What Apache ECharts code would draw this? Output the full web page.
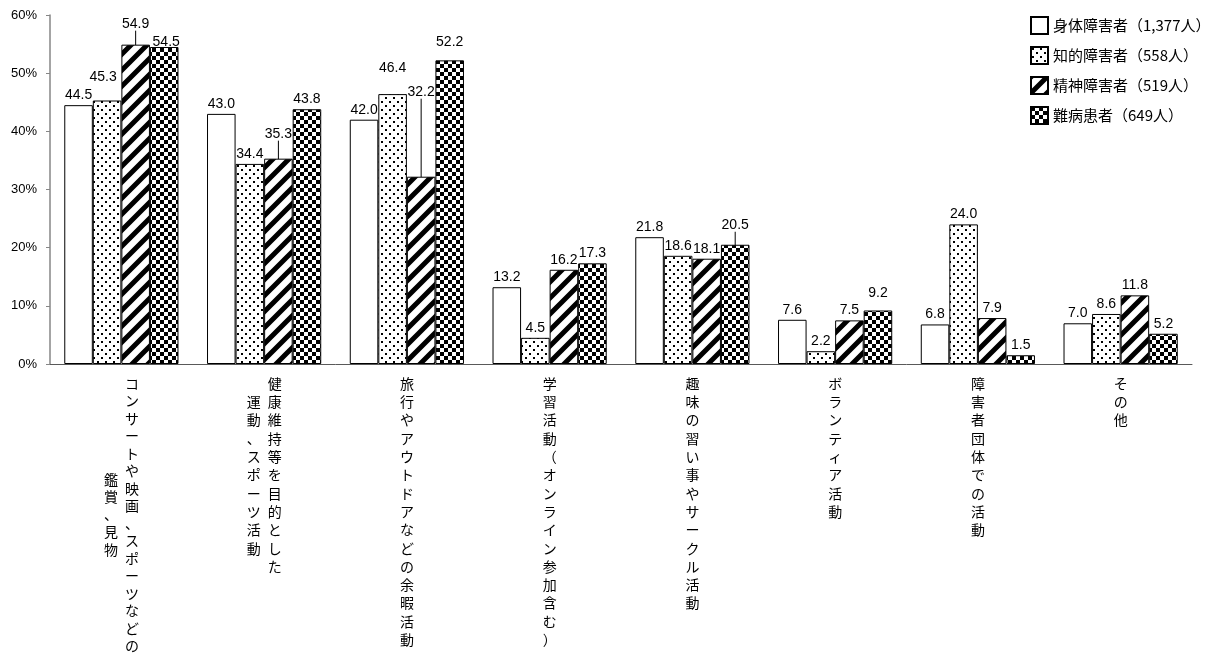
<!DOCTYPE html>
<html><head><meta charset="utf-8">
<script src="https://cdn.jsdelivr.net/npm/echarts@6/dist/echarts.min.js"></script>
<style>html,body{margin:0;padding:0;background:#fff}#c{width:1210px;height:653px}</style>
</head><body><div id="c"></div>
<script>
// ---- data ----
const categoriesMain = ['コンサートや映画、スポーツなどの','健康維持等を目的とした','旅行やアウトドアなどの余暇活動','学習活動（オンライン参加含む）','趣味の習い事やサークル活動','ボランティア活動','障害者団体での活動','その他'];
const categoriesSub = ['鑑賞、見物','運動、スポーツ活動','','','','','',''];
const seriesNames = ['身体障害者（1,377人）','知的障害者（558人）','精神障害者（519人）','難病患者（649人）'];
const physical = [44.5,43.0,42.0,13.2,21.8,7.6,6.8,7.0];
const intellectual = [45.3,34.4,46.4,4.5,18.6,2.2,24.0,8.6];
const mental = [54.9,35.3,32.2,16.2,18.1,7.5,7.9,11.8];
const intractable = [54.5,43.8,52.2,17.3,20.5,9.2,1.5,5.2];
const yMin = 0, yMax = 60, yStep = 10;

// ---- label adjustments (layout only) ----
const labelDy = [
  [0,0,0,0,0,0,0,0],
  [-13,0,-16,0,0,0,0,0],
  [-11,-15,-75,0,0,0,0,0],
  [5,0,-8,0,-10,-7,0,0]
];
const labelDx = [
  [0,0,0,0,0,0,0,0],
  [-4,0,0,0,0,0,0,0],
  [0,0,0,0,0,0,0,0],
  [2,0,0,0,0,0,0,0]
];
const leaderLines = [
  [0,0,0,0,0,0,0,0],
  [0,0,0,0,0,0,0,0],
  [1,1,1,0,0,0,0,0],
  [0,0,0,0,1,0,0,0]
];

// ---- patterns ----
function makeTile(w,h,draw){const c=document.createElement('canvas');c.width=w;c.height=h;const g=c.getContext('2d');g.fillStyle='#fff';g.fillRect(0,0,w,h);g.fillStyle='#000';g.strokeStyle='#000';draw(g);return c;}
const tilePlain = makeTile(4,4,()=>{});
const tileDots = makeTile(8,8,g=>{g.fillRect(1,1,2,2);g.fillRect(5,5,2,2);});
const tileStripes = makeTile(16,16,g=>{g.lineWidth=5;g.beginPath();[-16,0,16].forEach(o=>{g.moveTo(o-4,20);g.lineTo(o+20,-4);});g.stroke();});
const tileChecker = makeTile(8,8,g=>{g.fillRect(0,0,4,4);g.fillRect(4,4,4,4);});
const fills = [tilePlain,tileDots,tileStripes,tileChecker].map(t=>({image:t,repeat:'repeat'}));

// ---- vertical category labels ----
const FS = 14;
function vertLabel(idx){
  const main = Array.from(categoriesMain[idx]);
  const sub = Array.from(categoriesSub[idx]);
  const p = idx===0 ? 'a' : 'b';
  const n = 2*main.length-1;
  const off = main.length - sub.length;
  const lines = [];
  for(let k=0;k<n;k++){
    const r = (k%2===0) ? main[k/2] : ' ';
    if(sub.length){
      const j=(k-off)/2;
      const l = (Number.isInteger(j) && j>=0 && j<sub.length) ? sub[j] : ' ';
      lines.push('{l'+p+'|'+l+'}{r'+p+'|'+r+'}');
    } else {
      lines.push('{c'+p+'|'+r+'}');
    }
  }
  return lines.join('\n');
}
const ff = '"Noto Sans CJK JP", sans-serif';
function tok(lh,w){const o={fontSize:FS,fontFamily:ff,color:'#000',lineHeight:lh,align:'center'};if(w)o.width=w;return o;}
const rich = {la:tok(8.75,21),ra:tok(8.75,21),ca:tok(8.75),lb:tok(9.15,21),rb:tok(9.15,21),cb:tok(9.15)};

const allValues = [physical,intellectual,mental,intractable];
const series = allValues.map((vals,si)=>({
  type:'bar',
  name:seriesNames[si],
  data:vals.map((v,i)=>({value:v,labelLine:{show:!!leaderLines[si][i]}})),
  barGap:'0%',
  barCategoryGap:'20%',
  itemStyle:{color:fills[si],borderColor:'#000',borderWidth:1},
  label:{show:true,position:'top',distance:3,fontSize:14,fontFamily:'"Liberation Sans", Arial, sans-serif',color:'#000',formatter:p=>Number(p.value).toFixed(1)},
  labelLine:{show:false,lineStyle:{color:'#000',width:1}},
  labelLayout:p=>({dy:labelDy[p.seriesIndex][p.dataIndex],dx:labelDx[p.seriesIndex][p.dataIndex]}),
  emphasis:{disabled:true}
}));

const chart = echarts.init(document.getElementById('c'),null,{renderer:'canvas'});
chart.setOption({
  animation:false,
  backgroundColor:'#fff',
  grid:{left:50,right:18,top:15,bottom:289,containLabel:false},
  legend:{
    orient:'vertical',left:1025,top:11,itemWidth:17,itemHeight:17,itemGap:11,
    icon:'rect',
    textStyle:{fontSize:15,fontFamily:ff,color:'#000',lineHeight:17},
    data:seriesNames
  },
  xAxis:{
    type:'category',
    data:categoriesMain.map((m,i)=>m+categoriesSub[i]),
    axisLine:{lineStyle:{color:'#595959',width:1}},
    axisTick:{show:false},
    axisLabel:{interval:0,margin:15,hideOverlap:false,formatter:(v,i)=>vertLabel(i),rich:rich}
  },
  yAxis:{
    type:'value',min:yMin,max:yMax,interval:yStep,
    axisLine:{show:true,lineStyle:{color:'#868686',width:1.5}},
    axisTick:{show:true,length:4,lineStyle:{color:'#868686'}},
    splitLine:{show:false},
    axisLabel:{formatter:'{value}%',fontSize:13,fontFamily:'"Liberation Sans", Arial, sans-serif',color:'#000',margin:13}
  },
  series:series
});
</script>
</body></html>
